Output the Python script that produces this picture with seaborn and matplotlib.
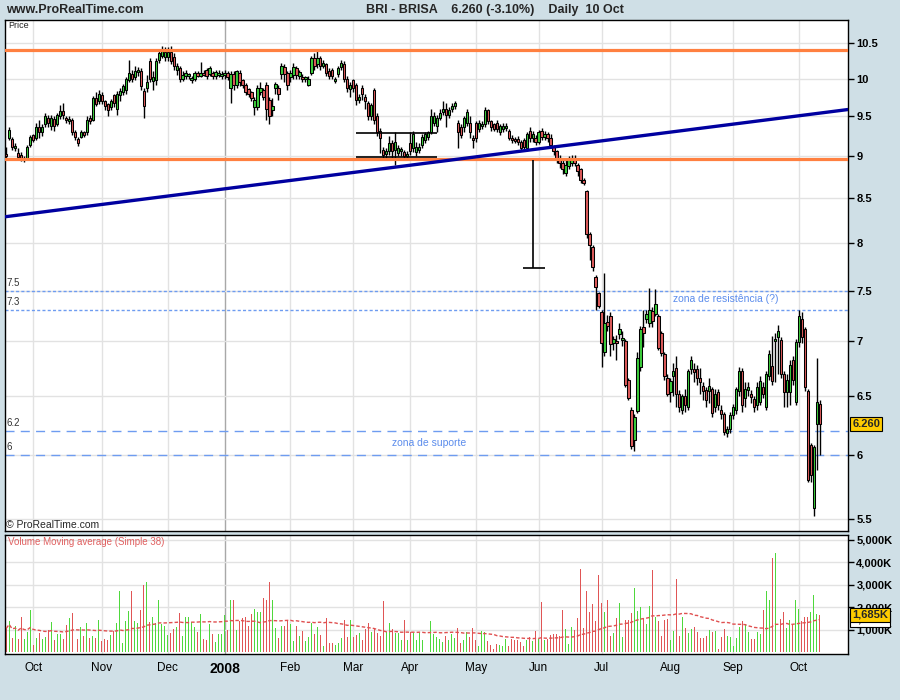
# BRI - BRISA daily candlestick chart with volume panel (ProRealTime style)
import numpy as np
import pandas as pd
import matplotlib
matplotlib.use("Agg")
import matplotlib.pyplot as plt
import seaborn as sns
from matplotlib.ticker import FixedLocator, FixedFormatter, NullLocator

# trading days shown on the chart (Euronext Lisbon holidays removed)
holidays = ["2007-12-25", "2007-12-26", "2008-01-01", "2008-03-21", "2008-03-24", "2008-05-01"]
dates = pd.bdate_range("2007-09-18", "2008-10-10", freq="C", holidays=holidays)

# OHLC, one line per month
open_ = [
    9.03, 9.22, 9.21, 9.10, 9.04, 9.02, 8.95, 8.98, 9.14,
    9.26, 9.22, 9.36, 9.30, 9.40, 9.48, 9.38, 9.47, 9.40, 9.50, 9.57, 9.48, 9.44, 9.46, 9.30, 9.21, 9.24, 9.29, 9.30, 9.48, 9.46, 9.74, 9.70,
    9.78, 9.70, 9.66, 9.62, 9.78, 9.60, 9.78, 9.82, 9.85, 9.98, 10.07, 10.02, 10.09, 10.10, 9.84, 9.88, 10.25, 9.97, 9.98, 10.26, 10.32, 10.30,
    10.30, 10.37, 10.30, 10.12, 10.15, 10.00, 10.04, 10.03, 9.98, 10.00, 10.08, 10.04, 10.08, 10.12, 10.07, 10.08, 10.04, 10.05, 10.04,
    10.05, 10.08, 9.88, 10.06, 9.92, 10.08, 9.98, 9.92, 9.86, 9.82, 9.62, 9.62, 9.82, 9.85, 9.92, 9.72, 9.58, 9.87, 9.88, 10.07, 10.16, 10.08,
    10.02, 10.05, 10.14, 10.04, 10.02, 9.99, 9.92, 10.08, 10.28, 10.20, 10.28, 10.18, 10.20, 10.10, 10.12, 9.97, 10.06, 10.16, 10.20, 10.00, 9.86,
    9.98, 9.92, 9.72, 9.88, 9.76, 9.68, 9.50, 9.85, 9.50, 9.32, 9.08, 9.03, 9.06, 9.16, 9.08, 9.04, 9.06, 9.05, 9.00,
    9.16, 9.10, 9.05, 9.08, 9.14, 9.20, 9.24, 9.30, 9.42, 9.38, 9.48, 9.56, 9.60, 9.52, 9.60, 9.63, 9.42, 9.36, 9.36, 9.42, 9.42, 9.22,
    9.42, 9.34, 9.38, 9.40, 9.58, 9.44, 9.40, 9.42, 9.30, 9.34, 9.35, 9.32, 9.22, 9.21, 9.20, 9.18, 9.20, 9.10, 9.32, 9.22, 9.22,
    9.18, 9.32, 9.24, 9.28, 9.22, 9.12, 9.06, 8.98, 8.92, 8.80, 8.88, 8.92, 8.98, 8.90, 8.84, 8.72, 8.58, 8.10, 7.96, 7.64, 7.47,
    7.28, 6.90, 7.19, 7.24, 6.98, 7.00, 7.07, 7.01, 7.00, 6.64, 6.38, 6.12, 6.37, 6.76, 7.14, 7.22, 7.18, 7.29, 7.26, 7.24, 7.08, 6.88, 6.66,
    6.53, 6.68, 6.75, 6.52, 6.38, 6.50, 6.40, 6.74, 6.74, 6.74, 6.66, 6.59, 6.55, 6.54, 6.56, 6.40, 6.53, 6.38, 6.34, 6.18, 6.21,
    6.33, 6.38, 6.54, 6.72, 6.48, 6.55, 6.52, 6.47, 6.42, 6.45, 6.58, 6.40, 6.68, 6.77, 7.00, 7.04, 7.01, 6.70, 6.53, 6.53, 6.82, 6.45,
    6.99, 7.22, 7.12, 6.54, 6.08, 5.58, 6.26, 6.43,
]
high = [
    9.12, 9.36, 9.24, 9.16, 9.10, 9.05, 9.00, 9.14, 9.27,
    9.28, 9.42, 9.45, 9.40, 9.55, 9.52, 9.52, 9.50, 9.55, 9.65, 9.68, 9.50, 9.50, 9.48, 9.33, 9.24, 9.33, 9.32, 9.50, 9.52, 9.77, 9.82, 9.85,
    9.82, 9.72, 9.68, 9.73, 9.80, 9.84, 9.88, 9.93, 10.02, 10.26, 10.12, 10.18, 10.16, 10.14, 9.88, 10.05, 10.28, 10.10, 10.28, 10.40, 10.45, 10.44,
    10.44, 10.46, 10.36, 10.22, 10.18, 10.10, 10.12, 10.08, 10.04, 10.11, 10.10, 10.23, 10.12, 10.15, 10.18, 10.10, 10.12, 10.12, 10.10,
    10.12, 10.10, 10.10, 10.10, 10.12, 10.12, 10.00, 9.94, 9.88, 9.84, 9.75, 9.92, 9.96, 9.88, 9.96, 9.76, 9.74, 9.96, 9.92, 10.22, 10.20, 10.10,
    10.12, 10.22, 10.18, 10.12, 10.06, 10.04, 10.04, 10.32, 10.36, 10.38, 10.32, 10.26, 10.22, 10.14, 10.14, 10.02, 10.18, 10.26, 10.24, 10.04, 9.96,
    10.00, 9.94, 9.80, 9.92, 9.80, 9.70, 9.68, 9.88, 9.55, 9.35, 9.12, 9.10, 9.25, 9.20, 9.30, 9.14, 9.12, 9.08, 9.06,
    9.30, 9.32, 9.18, 9.16, 9.28, 9.30, 9.32, 9.60, 9.56, 9.52, 9.60, 9.70, 9.68, 9.62, 9.68, 9.70, 9.45, 9.40, 9.50, 9.60, 9.50, 9.26,
    9.44, 9.45, 9.44, 9.62, 9.60, 9.46, 9.42, 9.45, 9.40, 9.42, 9.42, 9.34, 9.26, 9.24, 9.25, 9.20, 9.22, 9.30, 9.36, 9.32, 9.26,
    9.33, 9.35, 9.32, 9.30, 9.28, 9.14, 9.08, 9.02, 8.95, 8.95, 9.00, 9.02, 9.02, 8.92, 8.86, 8.74, 8.60, 8.12, 7.98, 7.66, 7.48,
    7.30, 7.68, 7.25, 7.28, 7.05, 7.06, 7.18, 7.10, 7.02, 6.66, 6.40, 6.34, 6.90, 7.15, 7.30, 7.30, 7.53, 7.33, 7.52, 7.26, 7.10, 6.90, 6.70,
    6.66, 6.80, 6.86, 6.55, 6.52, 6.56, 6.74, 6.86, 6.80, 6.78, 6.75, 6.62, 6.58, 6.66, 6.58, 6.56, 6.56, 6.42, 6.36, 6.24, 6.36,
    6.43, 6.58, 6.76, 6.75, 6.62, 6.62, 6.55, 6.50, 6.62, 6.68, 6.62, 6.72, 6.92, 7.05, 7.08, 7.16, 7.04, 6.72, 6.70, 6.82, 6.86, 7.02,
    7.30, 7.28, 7.14, 6.56, 6.10, 6.08, 6.84, 6.46,
]
low = [
    8.98, 9.20, 9.08, 9.06, 8.97, 8.94, 8.93, 8.96, 9.12,
    9.17, 9.20, 9.22, 9.25, 9.37, 9.36, 9.33, 9.32, 9.38, 9.47, 9.47, 9.42, 9.40, 9.27, 9.20, 9.13, 9.22, 9.24, 9.27, 9.40, 9.44, 9.63, 9.66,
    9.66, 9.58, 9.50, 9.58, 9.62, 9.52, 9.70, 9.78, 9.80, 9.95, 9.95, 9.98, 10.04, 9.85, 9.48, 9.82, 9.95, 9.85, 9.92, 10.22, 10.28, 10.25,
    10.25, 10.20, 10.12, 10.05, 9.96, 9.97, 10.00, 9.99, 9.94, 9.97, 10.02, 10.02, 10.03, 10.00, 10.04, 10.00, 10.00, 10.02, 10.00,
    10.00, 9.98, 9.67, 9.85, 9.88, 9.90, 9.88, 9.78, 9.75, 9.70, 9.52, 9.58, 9.78, 9.72, 9.45, 9.40, 9.50, 9.80, 9.72, 10.00, 9.95, 9.85,
    9.96, 10.00, 10.00, 10.00, 9.95, 9.95, 9.90, 10.05, 10.12, 10.15, 10.12, 10.14, 10.04, 10.00, 10.00, 9.94, 10.02, 10.12, 9.96, 9.82, 9.75,
    9.82, 9.65, 9.68, 9.72, 9.60, 9.45, 9.45, 9.40, 9.25, 9.04, 8.96, 8.98, 9.02, 8.96, 8.90, 9.00, 9.00, 8.96, 8.97,
    9.02, 9.05, 9.00, 9.04, 9.10, 9.16, 9.20, 9.28, 9.38, 9.30, 9.45, 9.52, 9.36, 9.48, 9.56, 9.60, 9.10, 9.22, 9.30, 9.38, 9.22, 9.10,
    9.18, 9.30, 9.34, 9.36, 9.40, 9.32, 9.32, 9.30, 9.26, 9.30, 9.32, 9.20, 9.16, 9.16, 9.14, 9.06, 9.08, 9.06, 9.18, 9.18, 9.14,
    9.15, 9.20, 9.20, 9.18, 9.10, 9.02, 8.92, 8.86, 8.78, 8.76, 8.85, 8.88, 8.88, 8.76, 8.68, 8.66, 8.05, 7.82, 7.70, 7.30, 7.32,
    6.76, 6.86, 7.10, 6.86, 6.92, 6.82, 7.02, 6.96, 6.58, 6.46, 6.05, 6.03, 6.35, 6.72, 6.95, 7.18, 7.14, 7.14, 7.24, 6.92, 6.86, 6.64, 6.50,
    6.45, 6.50, 6.40, 6.36, 6.34, 6.36, 6.38, 6.70, 6.62, 6.60, 6.52, 6.46, 6.40, 6.44, 6.32, 6.36, 6.38, 6.30, 6.16, 6.15, 6.18,
    6.30, 6.34, 6.50, 6.36, 6.40, 6.50, 6.44, 6.36, 6.38, 6.42, 6.48, 6.38, 6.64, 6.60, 6.62, 6.70, 6.66, 6.40, 6.40, 6.42, 6.60, 6.42,
    6.95, 6.98, 6.54, 5.78, 5.78, 5.52, 5.88, 6.00,
]
close = [
    9.00, 9.33, 9.11, 9.13, 8.99, 8.96, 8.97, 9.12, 9.24,
    9.20, 9.36, 9.30, 9.36, 9.50, 9.42, 9.48, 9.38, 9.52, 9.57, 9.52, 9.45, 9.46, 9.30, 9.24, 9.16, 9.30, 9.27, 9.46, 9.44, 9.74, 9.66, 9.80,
    9.70, 9.64, 9.58, 9.70, 9.68, 9.80, 9.84, 9.90, 10.00, 10.08, 10.00, 10.10, 10.12, 9.90, 9.64, 9.95, 10.00, 10.02, 10.24, 10.36, 10.38, 10.37,
    10.37, 10.25, 10.18, 10.18, 10.00, 10.05, 10.08, 10.05, 10.00, 10.08, 10.04, 10.08, 10.05, 10.04, 10.14, 10.04, 10.09, 10.08, 10.07,
    10.08, 10.02, 10.07, 9.92, 10.10, 9.95, 9.92, 9.82, 9.80, 9.74, 9.72, 9.88, 9.88, 9.76, 9.60, 9.50, 9.64, 9.93, 9.80, 10.18, 10.06, 9.92,
    10.08, 10.16, 10.05, 10.09, 9.99, 10.02, 10.00, 10.28, 10.18, 10.28, 10.18, 10.22, 10.08, 10.04, 10.04, 10.00, 10.14, 10.22, 10.00, 9.88, 9.92,
    9.88, 9.72, 9.76, 9.80, 9.70, 9.50, 9.65, 9.45, 9.30, 9.22, 9.02, 9.06, 9.16, 9.06, 9.18, 9.10, 9.08, 9.00, 9.02,
    9.06, 9.28, 9.12, 9.12, 9.24, 9.28, 9.30, 9.50, 9.50, 9.48, 9.55, 9.60, 9.52, 9.58, 9.64, 9.67, 9.30, 9.26, 9.48, 9.56, 9.30, 9.20,
    9.22, 9.42, 9.40, 9.58, 9.44, 9.36, 9.34, 9.34, 9.38, 9.38, 9.38, 9.22, 9.20, 9.19, 9.18, 9.10, 9.12, 9.28, 9.22, 9.28, 9.18,
    9.30, 9.24, 9.28, 9.22, 9.14, 9.06, 8.98, 8.92, 8.84, 8.90, 8.96, 8.98, 8.92, 8.82, 8.72, 8.68, 8.10, 7.98, 7.74, 7.54, 7.34,
    6.98, 7.18, 7.15, 6.97, 7.02, 6.98, 7.12, 7.03, 6.60, 6.48, 6.07, 6.32, 6.84, 7.12, 7.08, 7.26, 7.30, 7.20, 7.36, 6.94, 6.89, 6.68, 6.52,
    6.63, 6.72, 6.52, 6.40, 6.50, 6.42, 6.72, 6.82, 6.71, 6.66, 6.62, 6.54, 6.46, 6.59, 6.35, 6.52, 6.42, 6.34, 6.19, 6.21, 6.33,
    6.40, 6.56, 6.72, 6.42, 6.56, 6.58, 6.49, 6.40, 6.58, 6.63, 6.52, 6.70, 6.88, 6.63, 7.02, 7.10, 6.70, 6.53, 6.64, 6.78, 6.64, 6.99,
    7.24, 7.04, 6.58, 5.80, 5.84, 6.06, 6.45, 6.26,
]

# volume in thousands of shares, and its bar colour (g = up, r = down)
volume = [
    1074, 1415, 660, 1190, 615, 1580, 600, 925, 1900,
    333, 660, 867, 615, 674, 1015, 1370, 555, 822, 822, 600, 1222, 1548, 1770, 1593, 615, 1133, 733, 1311, 630, 733, 644, 1444,
    526, 615, 570, 793, 940, 1326, 2733, 422, 1415, 1844, 2733, 1415, 1326, 1889, 3000, 3133, 1370, 1580, 1326, 2333, 1252, 1178,
    778, 881, 1059, 1148, 1755, 733, 1580, 1580, 1370, 1118, 925, 1711, 585, 555, 1267, 822, 467, 822, 822,
    1667, 1015, 2333, 2333, 1000, 1415, 1548, 1593, 1163, 1711, 1933, 1800, 1800, 2422, 2333, 3133, 2333, 1089, 630, 1178, 1178, 1415,
    1252, 526, 1178, 733, 970, 526, 704, 1311, 822, 1133, 763, 289, 1533, 437, 437, 348, 437, 644, 1444, 674, 1444,
    674, 778, 867, 555, 1044, 1326, 911, 1030, 852, 733, 2289, 911, 1311, 1030, 867, 867, 555, 1459, 555,
    911, 867, 570, 881, 555, 689, 852, 1415, 822, 674, 585, 467, 733, 555, 822, 630, 1089, 437, 555, 911, 704, 1089,
    555, 289, 955, 911, 526, 348, 141, 378, 333, 289, 600, 289, 600, 555, 555, 467, 289, 555, 689, 526, 955,
    600, 2259, 555, 615, 778, 822, 822, 733, 1889, 1044, 378, 1133, 1015, 1533, 3711, 1089, 2733, 1800, 2155, 1415, 3444,
    2200, 1800, 2333, 733, 867, 1533, 2200, 689, 1444, 1444, 1770, 2867, 1844, 2022, 1504, 1267, 2067, 3667, 1563, 1415, 733, 1444, 1504,
    555, 970, 3267, 733, 1563, 1089, 852, 1044, 1148, 911, 644, 644, 733, 1000, 911, 970, 170, 704, 1044, 733, 704,
    289, 644, 1133, 1415, 1267, 911, 615, 585, 911, 822, 1889, 2733, 2348, 4200, 4422, 1593, 1474, 1800, 1104, 1444, 1222, 2333,
    1933, 1415, 1563, 1593, 1815, 2556, 1711, 1685,
]
volume_dir = (
    "rgrgrrggg"
    "rgrggrgrggrrgrrrgrgrgrg"
    "rrrgrgggggrggrrgrggggg"
    "grrgrgggggrgrrgrggg"
    "grgrgrrrrrgggrrrggrgrr"
    "ggrgrgggrgrgrrrgggrrg"
    "rrgrrrgrrrrggrgggrg"
    "rgggggggggggrgggrrggrr"
    "rgggrrrrgggrrrrrrgrgr"
    "grgrrrrrrgggrrrrrrrrr"
    "rgrrgrggrrrgggrggrgrrrr"
    "ggrrgrggrrrrrgrgrrrgg"
    "gggrggrrggrggrggrrggrg"
    "grrrgggr"
)

# annotation levels drawn on the chart
resistance_level = 10.40
support_level = 8.97
trend_start, trend_end = (-0.4, 8.29), (281.4, 9.59)
zone_levels = {7.5: "7.5", 7.3: "7.3", 6.2: "6.2", 6.0: "6"}
box_top, box_bottom, box_from, box_to = 9.29, 8.99, 117, 144
target_x, target_top, target_bottom = 176, 8.96, 7.73
price_ticks = [5.5, 6, 6.5, 7, 7.5, 8, 8.5, 9, 9.5, 10, 10.5]
volume_ticks = [1000, 2000, 3000, 4000, 5000]

n = len(dates)
for name, arr in [("open", open_), ("high", high), ("low", low), ("close", close),
                  ("volume", volume), ("volume_dir", volume_dir)]:
    if len(arr) != n:
        raise SystemExit(f"{name}: {len(arr)} values, {n} dates")

df = pd.DataFrame({"date": dates, "open": open_, "high": high, "low": low,
                   "close": close, "volume": volume, "dir": list(volume_dir)})
df["x"] = np.arange(n)
df["ma38"] = df["volume"].rolling(38, min_periods=1).mean()

# ---- style ----
sns.set_style("white")
plt.rcParams["font.family"] = ["Liberation Sans", "DejaVu Sans"]
bg = "#cfdfe6"
grid_c = "#e2e2e2"
up_c, down_c = "#3ccc3c", "#dd5a5a"
vol_up_c, vol_down_c = "#4fd83c", "#e05555"
zone_c = "#6e9cf0"

fig = plt.figure(figsize=(9, 7), dpi=100, facecolor=bg)
ax = fig.add_axes([5 / 900, 1 - 531 / 700, 843 / 900, 511 / 700])
axv = fig.add_axes([5 / 900, 1 - 654 / 700, 843 / 900, 119 / 700])

# month boundaries
month_start = df.index[df["date"].dt.month != df["date"].dt.month.shift()].tolist()[1:]
month_lab = ["2008" if df["date"][i].month == 1 else df["date"][i].strftime("%b") for i in month_start]

for a in (ax, axv):
    a.set_facecolor("white")
    a.set_xlim(-0.4, 281.4)
    for s in a.spines.values():
        s.set_color("black")
        s.set_linewidth(1)
    for i, lab in zip(month_start, month_lab):
        a.axvline(i, color="#a8a8a8" if lab == "2008" else grid_c, lw=1, zorder=0)

# ---- price panel ----
ax.set_yscale("log")
ax.set_ylim(5.41, 10.83)
for p in price_ticks:
    ax.axhline(p, color=grid_c, lw=1, zorder=0)
ax.yaxis.tick_right()
ax.yaxis.set_major_locator(FixedLocator(price_ticks))
ax.yaxis.set_major_formatter(FixedFormatter([f"{p:g}" for p in price_ticks]))
ax.yaxis.set_minor_locator(NullLocator())
ax.tick_params(axis="y", direction="out", length=4, width=1, labelsize=8, pad=2, colors="black")
ax.tick_params(axis="x", bottom=False, labelbottom=False)
for t in ax.get_yticklabels():
    t.set_fontweight("bold")

# candles
is_up = df["close"] >= df["open"]
body_lo = np.minimum(df["open"], df["close"])
body_hi = np.maximum(np.maximum(df["open"], df["close"]), body_lo * 1.003)
ax.vlines(df["x"], df["low"], df["high"], color="black", lw=1.0, zorder=2)
ax.bar(df["x"], body_hi - body_lo, bottom=body_lo, width=0.8,
       color=np.where(is_up, up_c, down_c), edgecolor="black", linewidth=0.75, zorder=3)

# drawn lines
ax.axhline(resistance_level, color="#ff8040", lw=2.3, zorder=4)
ax.axhline(support_level, color="#ff8040", lw=2.3, zorder=4)
ax.plot([trend_start[0], trend_end[0]], [trend_start[1], trend_end[1]], color="#0000a0", lw=2.4, zorder=5)
for lvl, lab in zone_levels.items():
    ls = (0, (2.2, 1.6)) if lvl > 7 else (0, (6.5, 4.5))
    ax.axhline(lvl, color=zone_c, lw=1, ls=ls, zorder=1)
    ax.text(0.2, lvl * 1.004, lab, fontsize=7, color="#333333", va="bottom", ha="left")
ax.hlines([box_top, box_bottom], box_from, box_to, color="black", lw=1.2, zorder=4)
ax.vlines(target_x, target_bottom, target_top, color="black", lw=1.2, zorder=4)
ax.hlines(target_bottom, target_x - 3.2, target_x + 4.2, color="black", lw=1.2, zorder=4)
ax.text(223, 7.41, "zona de resistência (?)", fontsize=7.5, color="#5b8cec", va="center", ha="left")
ax.text(129, 6.10, "zona de suporte", fontsize=7.5, color="#5b8cec", va="center", ha="left")

ax.text(1.005, close[-1], f"{close[-1]:.3f}", transform=ax.get_yaxis_transform(),
        fontsize=8, fontweight="bold", va="center", ha="left", zorder=10, clip_on=False,
        bbox=dict(boxstyle="square,pad=0.18", fc="#ffcc00", ec="black", lw=0.8))

# ---- volume panel ----
axv.set_ylim(-67, 5222)
for v in volume_ticks:
    axv.axhline(v, color=grid_c, lw=1, zorder=0)
axv.bar(df["x"], df["volume"], width=0.33, linewidth=0, antialiased=False,
        color=np.where(df["dir"] == "g", vol_up_c, vol_down_c), zorder=2)
sns.lineplot(data=df, x="x", y="ma38", ax=axv, color="#e05050", lw=1,
             linestyle=(0, (2.5, 1.5)), legend=False, zorder=3)
axv.set_xlabel("")
axv.set_ylabel("")
axv.yaxis.tick_right()
axv.yaxis.set_major_locator(FixedLocator(volume_ticks))
axv.yaxis.set_major_formatter(FixedFormatter([f"{v:,}K" for v in volume_ticks]))
axv.yaxis.set_minor_locator(NullLocator())
axv.tick_params(axis="y", direction="out", length=4, width=1, labelsize=8, pad=2, colors="black")
for t in axv.get_yticklabels():
    t.set_fontweight("bold")
axv.xaxis.set_major_locator(FixedLocator(month_start))
axv.xaxis.set_major_formatter(FixedFormatter(month_lab))
axv.xaxis.set_minor_locator(NullLocator())
axv.tick_params(axis="x", direction="out", length=3, width=1, labelsize=8.5, pad=3, colors="black")
for t in axv.get_xticklabels():
    if t.get_text() == "2008":
        t.set_fontweight("bold")
        t.set_fontsize(10)

# last-value tags on the volume scale (MA tag sits under the volume tag)
ma_last = df["ma38"].iloc[-1]
axv.text(1.005, ma_last, f"{ma_last:,.0f}K", transform=axv.get_yaxis_transform(),
         fontsize=8, fontweight="bold", va="center", ha="left", zorder=9, clip_on=False,
         bbox=dict(boxstyle="square,pad=0.18", fc="white", ec="black", lw=0.8))
axv.text(1.005, volume[-1], f"{volume[-1]:,}K", transform=axv.get_yaxis_transform(),
         fontsize=8, fontweight="bold", va="center", ha="left", zorder=10, clip_on=False,
         bbox=dict(boxstyle="square,pad=0.18", fc="#ffcc00", ec="black", lw=0.8))

# ---- texts ----
fig.text(6 / 900, 1 - 10 / 700, "www.ProRealTime.com", fontsize=9, fontweight="bold", va="center")
fig.text(495 / 900, 1 - 10 / 700, "BRI - BRISA    6.260 (-3.10%)    Daily  10 Oct",
         fontsize=9, fontweight="bold", va="center", ha="center")
fig.text(8 / 900, 1 - 26 / 700, "Price", fontsize=6.5, va="center")
fig.text(6 / 900, 1 - 525 / 700, "© ProRealTime.com", fontsize=7.5, va="center")
fig.text(8 / 900, 1 - 542 / 700, "Volume Moving average (Simple 38)", fontsize=7, color="#e06060", va="center")

fig.savefig("out.png", dpi=100, facecolor=bg)
